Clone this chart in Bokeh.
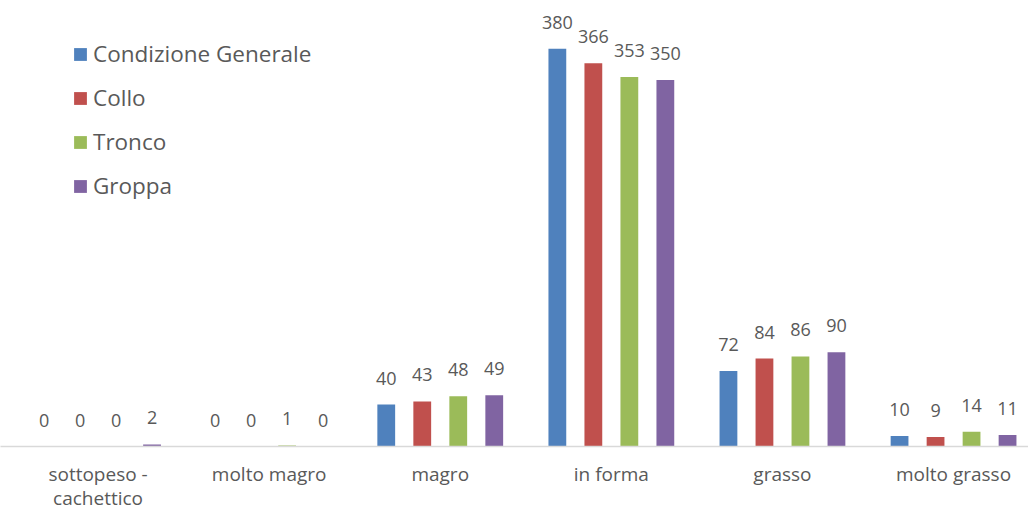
from bokeh.plotting import figure
from bokeh.models import ColumnDataSource, FixedTicker, Legend, LegendItem
from bokeh.core.properties import value
from bokeh.embed import file_html
from bokeh.resources import INLINE

categories = ["sottopeso -\ncachettico", "molto magro", "magro", "in forma", "grasso", "molto grasso"]
series_names = ["Condizione Generale", "Collo", "Tronco", "Groppa"]
condizione_generale = [0, 0, 40, 380, 72, 10]
collo = [0, 0, 43, 366, 84, 9]
tronco = [0, 1, 48, 353, 86, 14]
groppa = [2, 0, 49, 350, 90, 11]
colors = ["#4F81BD", "#C0504D", "#9BBB59", "#8064A2"]

FONT = "Open Sans"
TEXT_COLOR = "#595959"

FW = 1028
FH = 446
x0 = -12 / 171.1
p = figure(
    frame_width=FW, frame_height=FH,
    x_range=(x0, x0 + FW / 171.1), y_range=(0, FH / 1.047),
    output_backend="svg", toolbar_location=None,
    min_border_left=0, min_border_right=0, min_border_top=0, min_border_bottom=0,
)
p.outline_line_color = None
p.xgrid.visible = False
p.ygrid.visible = False
p.yaxis.visible = False
p.background_fill_color = "white"
p.border_fill_color = "white"

centers = [i + 0.5 for i in range(len(categories))]
step = 0.2104
bar_w = 0.104

all_series = [condizione_generale, collo, tronco, groppa]
items = []
for k, (name, vals, col) in enumerate(zip(series_names, all_series, colors)):
    off = (k - 1.5) * step
    xs = [c + off for c in centers]
    src = ColumnDataSource(dict(x=xs, top=vals, lbl=[str(v) for v in vals]))
    r = p.vbar(x="x", top="top", width=bar_w, bottom=0, source=src,
               fill_color=col, line_color=None)
    p.text(x="x", y="top", text="lbl", source=src, text_align="center",
           text_baseline="alphabetic", y_offset=-26.5,
           text_font=value(FONT), text_font_size="18px", text_color=TEXT_COLOR)
    items.append(LegendItem(label=name, renderers=[r]))

legend = Legend(
    items=items, location=(72, 245), orientation="vertical",
    glyph_width=16, glyph_height=16, label_height=30, label_standoff=5,
    spacing=13, padding=0, margin=0,
    label_text_font=FONT, label_text_font_size="22.5px", label_text_color=TEXT_COLOR,
    border_line_color=None, background_fill_alpha=0,
)
p.add_layout(legend, "center")

ax = p.xaxis[0]
ax.ticker = FixedTicker(ticks=centers)
ax.major_label_overrides = {c: lab for c, lab in zip(centers, categories)}
ax.major_tick_line_color = None
ax.minor_tick_line_color = None
ax.major_tick_out = 0
ax.major_tick_in = 0
ax.axis_line_color = "#D9D9D9"
ax.axis_line_width = 1.5
ax.major_label_standoff = 14
ax.major_label_text_font = FONT
ax.major_label_text_font_size = "19px"
ax.major_label_text_line_height = 0.95
ax.major_label_text_color = TEXT_COLOR

open("out.html", "w").write(file_html(p, INLINE))
